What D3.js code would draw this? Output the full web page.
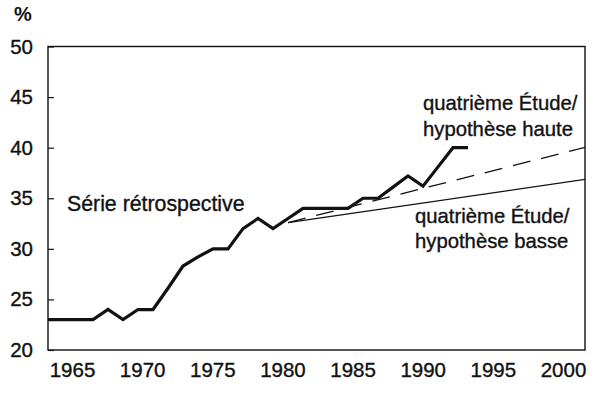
<!DOCTYPE html>
<html>
<head>
<meta charset="utf-8">
<script src="https://cdn.jsdelivr.net/npm/d3@7"></script>
<style>
  html, body { margin: 0; padding: 0; background: #fff; }
  svg { display: block; font-family: "Liberation Sans", Arial, Helvetica, sans-serif; }
</style>
</head>
<body>
<svg id="chart" width="600" height="397"></svg>
<script>
// ---- data ----
const histYears  = [1965,1966,1967,1968,1969,1970,1971,1972,1973,1974,1975,1976,1977,1978,1979,1980,1981,1982,1983,1984,1985,1986,1987,1988,1989,1990,1991,1992,1993];
const histValues = [23,23,23,23,24,23,24,24,26.1,28.3,29.2,30,30,32,33,32,33,34,34,34,34,35,35,36.1,37.2,36.2,38.1,40,40];
const projYears  = [1981, 2001];
const projHigh   = [32.6, 40.1];
const projLow    = [32.6, 36.9];
const yTicks     = [20,25,30,35,40,45,50];
const xTickYears = [1965,1970,1975,1980,1985,1990,1995,2000];
const labelHist  = "Série rétrospective";
const labelHigh  = ["quatrième Étude/", "hypothèse haute"];
const labelLow   = ["quatrième Étude/", "hypothèse basse"];

const svg = d3.select("#chart");
const L = 48, R = 585, T = 46.5, B = 350;
const ink = "#111";

const x = d3.scaleLinear().domain([1965, 2000.8]).range([L, R]);
const xLabel = d3.scaleLinear().domain([1965, 2000]).range([72, 563]);
const y = d3.scaleLinear().domain([20, 50]).range([B, T]);

svg.append("defs").append("clipPath").attr("id", "clip")
  .append("rect").attr("x", L).attr("y", T).attr("width", R - L).attr("height", B - T);

// frame
svg.append("rect")
  .attr("x", L).attr("y", T).attr("width", R - L).attr("height", B - T)
  .attr("fill", "none").attr("stroke", ink).attr("stroke-width", 1.4);

function styleText(sel, size) {
  sel.attr("font-size", size).attr("fill", ink)
     .attr("stroke", ink).attr("stroke-width", 0.35)
     .attr("font-family", '"Liberation Sans", Arial, sans-serif');
}

// y axis
const yAxis = svg.append("g").attr("transform", `translate(${L},0)`)
  .call(d3.axisLeft(y).tickValues(yTicks).tickSizeInner(-6).tickSizeOuter(0).tickPadding(15));
yAxis.select(".domain").remove();
yAxis.selectAll(".tick line").attr("stroke", ink).attr("stroke-width", 1.2);
styleText(yAxis.selectAll("text"), 20.5);

// x axis labels
const xAxis = svg.append("g").attr("transform", `translate(0,${B})`)
  .call(d3.axisBottom(xLabel).tickValues(xTickYears).tickFormat(d3.format("d")).tickSize(0).tickPadding(12));
xAxis.select(".domain").remove();
styleText(xAxis.selectAll("text"), 20.5);

// "%" unit
svg.append("text").attr("x", 23).attr("y", 21).attr("text-anchor", "middle")
  .attr("font-size", 20).attr("font-weight", "bold").attr("fill", ink).text("%");

const line = d3.line().x(d => x(d[0])).y(d => y(d[1]));
const plot = svg.append("g").attr("clip-path", "url(#clip)");

// projections
plot.append("path").datum(d3.zip(projYears, projLow))
  .attr("d", line).attr("fill", "none").attr("stroke", ink).attr("stroke-width", 1.3);
plot.append("path").datum(d3.zip(projYears, projHigh))
  .attr("d", line).attr("fill", "none").attr("stroke", ink).attr("stroke-width", 1.3)
  .attr("stroke-dasharray", "18,11");

// historical series
plot.append("path").datum(d3.zip(histYears, histValues))
  .attr("d", line).attr("fill", "none").attr("stroke", ink).attr("stroke-width", 3.2)
  .attr("stroke-linejoin", "miter").attr("stroke-miterlimit", 3);

// labels
const h = svg.append("text").attr("x", 67).attr("y", 211).text(labelHist);
styleText(h, 21.3);

const hi = svg.append("text").attr("x", 423);
styleText(hi, 20.3);
hi.append("tspan").attr("x", 423).attr("y", 110).text(labelHigh[0]);
hi.append("tspan").attr("x", 423).attr("y", 136).text(labelHigh[1]);

const lo = svg.append("text").attr("x", 415);
styleText(lo, 20.3);
lo.append("tspan").attr("x", 415).attr("y", 223).text(labelLow[0]);
lo.append("tspan").attr("x", 415).attr("y", 248).text(labelLow[1]);
</script>
</body>
</html>
